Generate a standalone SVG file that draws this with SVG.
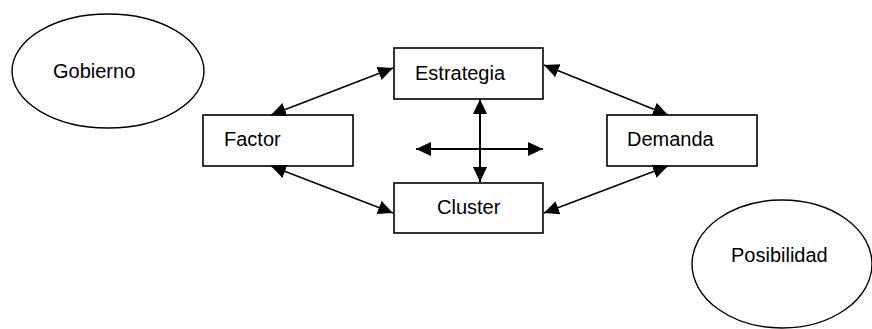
<svg xmlns="http://www.w3.org/2000/svg" width="872" height="329" viewBox="0 0 872 329">
<defs>
<marker id="ah" viewBox="0 0 15 14" refX="15" refY="7" markerWidth="15" markerHeight="14" markerUnits="userSpaceOnUse" orient="auto-start-reverse">
<path d="M0,0 L15,7 L0,14 z" fill="#000"/>
</marker>
<style>
.box{fill:#fff;stroke:#000;stroke-width:1.6}
.ell{fill:#fff;stroke:#000;stroke-width:1.4}
.t{font-family:"Liberation Sans",Arial,sans-serif;font-size:20px;fill:#000}
.c{stroke:#000;stroke-width:1.6;fill:none;marker-start:url(#ah);marker-end:url(#ah)}
.x{stroke:#000;stroke-width:2;fill:none;marker-start:url(#ah);marker-end:url(#ah)}
</style>
</defs>
<rect width="872" height="329" fill="#fff"/>
<g id="gobierno"><ellipse class="ell" cx="108" cy="71" rx="96" ry="57"/><text class="t" x="53" y="78">Gobierno</text></g>
<g id="estrategia"><rect class="box" x="394" y="48" width="149" height="51"/><text class="t" x="415" y="80">Estrategia</text></g>
<g id="factor"><rect class="box" x="203" y="115" width="150" height="51"/><text class="t" x="224" y="146">Factor</text></g>
<g id="cluster"><rect class="box" x="394" y="183" width="149" height="50"/><text class="t" x="437" y="214">Cluster</text></g>
<g id="demanda"><rect class="box" x="607" y="115" width="150" height="51"/><text class="t" x="627" y="146">Demanda</text></g>
<g id="posibilidad"><ellipse class="ell" cx="782" cy="264" rx="90" ry="64"/><text class="t" x="731" y="262">Posibilidad</text></g>
<g id="connectors">
<line class="c" x1="271" y1="115" x2="393" y2="68"/>
<line class="c" x1="271" y1="166" x2="393" y2="213"/>
<line class="c" x1="544" y1="65" x2="668" y2="115"/>
<line class="c" x1="544" y1="213" x2="668" y2="166"/>
<line class="x" x1="480" y1="99" x2="480" y2="182"/>
<line class="x" x1="416" y1="149" x2="543" y2="149"/>
</g>
</svg>
